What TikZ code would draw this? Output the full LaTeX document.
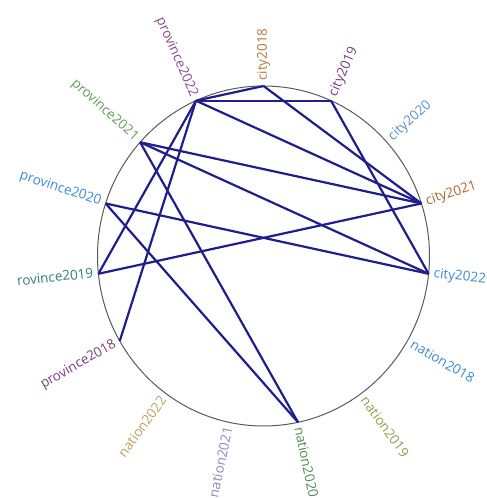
\documentclass[tikz,border=0pt]{standalone}
\usepackage{fontspec}
\setmainfont{Open Sans}
\definecolor{edgeblue}{HTML}{1E1E8C}
\definecolor{circgray}{HTML}{5A5A5A}
\definecolor{c-province2022}{HTML}{8A4A8A}
\definecolor{c-province2021}{HTML}{5E9E55}
\definecolor{c-province2020}{HTML}{3A8AD8}
\definecolor{c-province2019}{HTML}{2E8080}
\definecolor{c-province2018}{HTML}{7D3D85}
\definecolor{c-city2018}{HTML}{B87840}
\definecolor{c-city2019}{HTML}{7A3A80}
\definecolor{c-city2020}{HTML}{5A8ED0}
\definecolor{c-city2021}{HTML}{B06530}
\definecolor{c-city2022}{HTML}{3A8AD8}
\definecolor{c-nation2018}{HTML}{3A8AD8}
\definecolor{c-nation2019}{HTML}{9A9A48}
\definecolor{c-nation2020}{HTML}{4E8E55}
\definecolor{c-nation2021}{HTML}{8A8AB8}
\definecolor{c-nation2022}{HTML}{C0A060}
\begin{document}
\begin{tikzpicture}[x=1pt,y=1pt,
  edge/.style={draw=edgeblue, line width=2.2pt},
  lbl/.style={font=\fontsize{13.5}{13.5}\selectfont, inner sep=0pt}]
\useasboundingbox (0,0) rectangle (487,498);
\clip (17,0) rectangle (487,498);
\draw[circgray, line width=1pt] (263.5,242) ellipse [x radius=166, y radius=170];
% anchor points on the circle
\foreach \n/\a in {city2018/90,city2019/66,city2020/42,city2021/18,city2022/-6,
  nation2018/-30,nation2019/-54,nation2020/-78,nation2021/-102,nation2022/-126,
  province2018/-150,province2019/-174,province2020/162,province2021/138,province2022/114}{
  \coordinate (\n) at ({263.5+166*cos(\a)},{242+170*sin(\a)});
}
% labels, right half
\foreach \n/\a in {city2018/90,city2019/66,city2020/42,city2021/18,city2022/-6,
  nation2018/-30,nation2019/-54,nation2020/-78}{
  \node[lbl, text=c-\n, anchor=west, rotate=\a] (l-\n) at ({263.5+171*cos(\a)},{242+175*sin(\a)}) {\n};
}
% labels, left half
\foreach \n/\a in {nation2021/258,nation2022/234,province2018/210,province2019/186,
  province2020/162,province2021/138,province2022/114}{
  \node[lbl, text=c-\n, anchor=east, rotate=\a-180] (l-\n) at ({263.5+171*cos(\a)},{242+175*sin(\a)}) {\n};
}
% chords
\draw[edge] (province2022) -- (city2018);
\draw[edge] (province2022) -- (city2019);
\draw[edge] (province2022) -- (city2021);
\draw[edge] (province2022) -- (province2019);
\draw[edge] (province2022) -- (province2018);
\draw[edge] (province2021) -- (city2021);
\draw[edge] (province2021) -- (city2022);
\draw[edge] (province2021) -- (nation2020);
\draw[edge] (province2020) -- (city2022);
\draw[edge] (province2020) -- (nation2020);
\draw[edge] (province2019) -- (city2021);
\draw[edge] (city2018) -- (city2021);
\draw[edge] (city2019) -- (city2022);
\end{tikzpicture}
\end{document}
